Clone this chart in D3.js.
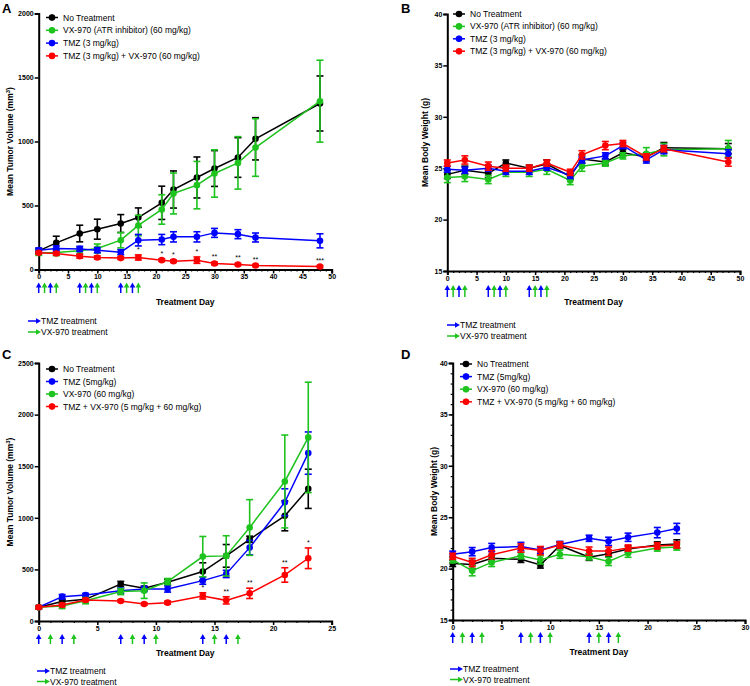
<!DOCTYPE html>
<html><head><meta charset="utf-8">
<script src="https://cdn.jsdelivr.net/npm/d3@7"></script>
<style>body{margin:0;background:#fff}svg{display:block;font-family:Arial,"Liberation Sans",sans-serif}</style>
</head><body>
<svg id="c" width="750" height="686"></svg>
<script>
// ---------- DATA ----------
const seriesColors = {none:"#000000", vx:"#1ec31e", tmz:"#0000ff", combo:"#ff0000"};

// Panel A: tumor volume, TMZ 3 mg/kg
const daysA = [0,3,7,10,14,17,21,23,27,30,34,37,48];
const volA_none  = [146,208,281,315,359,406,521,625,719,789,875,1021,1297];
const volA_noneE = [20,52,65,78,70,75,130,145,160,140,155,165,215];
const volA_vx    = [130,133,146,164,229,344,469,594,659,750,833,953,1315];
const volA_vxE   = [20,25,25,35,60,80,115,160,185,185,205,225,320];
const volA_tmz   = [151,164,161,151,135,229,234,255,255,286,276,250,224];
const volA_tmzE  = [15,20,20,20,20,45,40,40,40,35,35,35,55];
const volA_combo = [130,125,104,94,89,94,73,65,73,47,39,31,23];
const volA_comboE= [10,12,15,12,10,20,10,10,25,10,8,8,8];
const starsA     = ["","","","","","*","*","*","*","**","**","**","***"];
const legendA = ["No Treatment","VX-970 (ATR inhibitor) (60 mg/kg)","TMZ (3 mg/kg)","TMZ (3 mg/kg) + VX-970 (60 mg/kg)"];

// Panel B: body weight, TMZ 3 mg/kg
const wtB_none  = [24.4,24.8,24.5,25.5,25.0,25.4,24.2,25.9,25.6,26.5,26.1,27.0,26.9];
const wtB_noneE = [0.4,0.4,0.4,0.3,0.3,0.4,0.3,0.4,0.3,0.3,0.4,0.5,0.5];
const wtB_vx    = [24.1,24.2,23.9,24.6,24.6,24.9,23.8,25.2,25.5,26.2,26.4,26.8,26.9];
const wtB_vxE   = [0.5,0.5,0.4,0.4,0.4,0.5,0.4,0.5,0.3,0.3,0.6,0.6,0.8];
const wtB_tmz   = [24.9,24.8,25.0,24.7,24.7,25.1,24.3,25.8,26.2,27.2,25.8,26.8,26.4];
const wtB_tmzE  = [0.3,0.3,0.3,0.3,0.3,0.3,0.3,0.3,0.3,0.3,0.3,0.4,0.4];
const wtB_combo = [25.5,25.8,25.2,25.0,25.0,25.5,24.6,26.3,27.2,27.4,26.1,26.9,25.6];
const wtB_comboE= [0.3,0.4,0.4,0.3,0.3,0.3,0.3,0.4,0.4,0.3,0.3,0.3,0.4];

// Panel C: tumor volume, TMZ 5 mg/kg
const daysC = [0,2,4,7,9,11,14,16,18,21,23];
const volC_none  = [133,188,210,359,317,375,479,631,792,1019,1281];
const volC_noneE = [15,20,20,25,20,30,85,110,30,145,190];
const volC_tmz   = [133,236,252,294,310,310,391,456,711,1151,1627];
const volC_tmzE  = [15,20,15,25,25,30,35,35,70,130,205];
const volC_vx    = [133,146,197,285,294,382,624,631,906,1352,1779];
const volC_vxE   = [15,25,30,30,75,30,195,195,270,450,535];
const volC_combo = [133,155,204,194,165,178,243,200,268,446,608];
const volC_comboE= [15,15,15,12,12,15,30,35,50,70,100];
const starsC     = ["","","","","","","*","**","**","**","*"];
const legendC = ["No Treatment","TMZ (5mg/kg)","VX-970 (60 mg/kg)","TMZ + VX-970 (5 mg/kg + 60 mg/kg)"];

// Panel D: body weight, TMZ 5 mg/kg
const wtD_none  = [20.5,20.4,21.0,20.9,20.35,22.25,21.1,21.45,21.9,22.3,22.4];
const wtD_noneE = [0.3,0.4,0.3,0.3,0.3,0.3,0.3,0.3,0.3,0.3,0.4];
const wtD_tmz   = [21.4,21.65,22.05,22.15,21.8,22.35,22.95,22.65,23.05,23.5,23.9];
const wtD_tmzE  = [0.3,0.4,0.4,0.4,0.3,0.3,0.3,0.4,0.4,0.5,0.5];
const wtD_vx    = [20.85,19.8,20.6,21.25,20.85,21.4,21.15,20.7,21.5,22.0,22.1];
const wtD_vxE   = [0.3,0.5,0.4,0.3,0.4,0.4,0.3,0.4,0.4,0.3,0.3];
const wtD_combo = [21.2,20.6,21.35,22.0,21.75,22.3,21.7,21.7,22.0,22.2,22.3];
const wtD_comboE= [0.3,0.4,0.4,0.4,0.4,0.3,0.4,0.4,0.3,0.3,0.3];

// Treatment schedule (arrows)
const tmzDays = [0,2,7,9,14,16];
const vxDays  = [1,3,8,10,15,17];

const ticksVolA = [0,500,1000,1500,2000];
const ticksVolC = [0,500,1000,1500,2000,2500];
const ticksWt   = [15,20,25,30,35,40];

// ---------- DRAW ----------
const svg = d3.select("#c");
const FONT = 'Arial,"Liberation Sans",sans-serif';

function drawPanel(cfg){
  const g = svg.append("g");
  const x = d3.scaleLinear().domain(cfg.xDomain).range(cfg.xRange);
  const y = d3.scaleLinear().domain(cfg.yDomain).range(cfg.yRange);
  const y0 = cfg.yRange[0];

  const xAx = g.append("g").attr("transform",`translate(0,${y0})`)
    .call(d3.axisBottom(x).tickValues(d3.range(cfg.xDomain[0],cfg.xDomain[1]+1,5)).tickSize(4).tickPadding(1).tickFormat(d3.format("d")));
  g.append("g").attr("transform",`translate(0,${y0})`)
    .call(d3.axisBottom(x).tickValues(d3.range(cfg.xDomain[0],cfg.xDomain[1]+1,1)).tickSize(2).tickFormat(""))
    .call(a=>a.select(".domain").remove())
    .selectAll("line").attr("stroke-width",1.2);
  const yAx = g.append("g").attr("transform",`translate(${cfg.xRange[0]},0)`)
    .call(d3.axisLeft(y).tickValues(cfg.yTicks).tickSize(4).tickPadding(1).tickFormat(d3.format("d")));
  if(cfg.yMinor){
    g.append("g").attr("transform",`translate(${cfg.xRange[0]},0)`)
      .call(d3.axisLeft(y).tickValues(d3.range(cfg.yDomain[0],cfg.yDomain[1]+0.01,1)).tickSize(2).tickFormat(""))
      .call(a=>a.select(".domain").remove())
      .selectAll("line").attr("stroke-width",1.2);
  }
  [xAx,yAx].forEach(a=>{
    a.select(".domain").attr("stroke-width",2);
    a.selectAll(".tick line").attr("stroke-width",1.5);
    a.selectAll("text").attr("font-size",7).attr("font-weight","bold").attr("font-family",FONT).attr("fill","#000");
  });

  cfg.series.forEach((s)=>{
    const pts = cfg.days.map((d,i)=>({d,v:s.v[i],e:s.e[i]}));
    const col = s.color;
    g.append("path").datum(pts)
      .attr("fill","none").attr("stroke",col).attr("stroke-width",1.5)
      .attr("d",d3.line().x(p=>x(p.d)).y(p=>y(p.v)));
    const eb = g.append("g");
    pts.forEach(p=>{
      const cx = x(p.d), top=y(p.v+p.e), bot=y(p.v-p.e);
      eb.append("line").attr("x1",cx).attr("x2",cx).attr("y1",top).attr("y2",bot).attr("stroke",col).attr("stroke-width",1.6);
      [top,bot].forEach(yy=>eb.append("line").attr("x1",cx-3.5).attr("x2",cx+3.5).attr("y1",yy).attr("y2",yy).attr("stroke",col).attr("stroke-width",1.6));
      eb.append("circle").attr("cx",cx).attr("cy",y(p.v)).attr("r",3.3).attr("fill",col);
    });
    if(s.stars){
      pts.forEach((p,i)=>{
        if(!s.stars[i]) return;
        g.append("text").attr("x",x(p.d)).attr("y",y(p.v+p.e)-3).attr("text-anchor","middle")
          .attr("font-size",7).attr("font-family",FONT).attr("fill","#000").text(s.stars[i]);
      });
    }
  });

  cfg.legendOrder.forEach((k,i)=>{
    const ly = cfg.legendY + i*cfg.legendDy, lx = cfg.legendX;
    const col = seriesColors[k];
    g.append("line").attr("x1",lx-6).attr("x2",lx+6).attr("y1",ly).attr("y2",ly).attr("stroke",col).attr("stroke-width",1.5);
    g.append("line").attr("x1",lx).attr("x2",lx).attr("y1",ly-3).attr("y2",ly+3).attr("stroke",col).attr("stroke-width",1.6);
    g.append("circle").attr("cx",lx).attr("cy",ly).attr("r",3.3).attr("fill",col);
    g.append("text").attr("x",lx+11).attr("y",ly+3).attr("font-size",8.5).attr("font-family",FONT).attr("fill","#000").text(cfg.legendLabels[i]);
  });

  const arrow = (cx,yTop,yBot,col)=>{
    g.append("line").attr("x1",cx).attr("x2",cx).attr("y1",yTop+4).attr("y2",yBot).attr("stroke",col).attr("stroke-width",1.5);
    g.append("path").attr("d",`M${cx-2.8},${yTop+5}L${cx},${yTop}L${cx+2.8},${yTop+5}Z`).attr("fill",col);
  };
  tmzDays.forEach(d=>arrow(x(d),cfg.arrowTop,cfg.arrowBot,seriesColors.tmz));
  vxDays.forEach(d=>arrow(x(d),cfg.arrowTop,cfg.arrowBot,seriesColors.vx));

  g.append("text").attr("x",(cfg.xRange[0]+cfg.xRange[1])/2).attr("y",cfg.xTitleY).attr("text-anchor","middle")
    .attr("font-size",8.5).attr("font-weight","bold").attr("font-family",FONT).text("Treatment Day");
  const yt = g.append("text").attr("transform",`translate(${cfg.yTitleX},${(cfg.yRange[0]+cfg.yRange[1])/2}) rotate(-90)`)
    .attr("text-anchor","middle").attr("font-size",8.5).attr("font-weight","bold").attr("font-family",FONT);
  if(cfg.yTitleSup){
    yt.append("tspan").text(cfg.yTitle);
    yt.append("tspan").attr("font-size",6).attr("dy",-3).text("3");
    yt.append("tspan").attr("dy",3).text(")");
  } else yt.text(cfg.yTitle);

  const tl = [["TMZ treatment",seriesColors.tmz],["VX-970 treatment",seriesColors.vx]];
  tl.forEach((t,i)=>{
    const ly = cfg.tlY + i*cfg.tlDy, lx = cfg.tlX;
    g.append("line").attr("x1",lx).attr("x2",lx+9).attr("y1",ly).attr("y2",ly).attr("stroke",t[1]).attr("stroke-width",1.5);
    g.append("path").attr("d",`M${lx+8},${ly-2.8}L${lx+13},${ly}L${lx+8},${ly+2.8}Z`).attr("fill",t[1]);
    g.append("text").attr("x",lx+13).attr("y",ly+3).attr("font-size",8.5).attr("font-family",FONT).text(t[0]);
  });

  g.append("text").attr("x",cfg.letterX).attr("y",cfg.letterY).attr("font-size",13).attr("font-weight","bold").attr("font-family",FONT).text(cfg.letter);
}

drawPanel({letter:"A",letterX:2,letterY:13,
  days:daysA,xDomain:[0,50],xRange:[38.7,331.7],yDomain:[0,2000],yRange:[269.5,13.5],yTicks:ticksVolA,
  series:[{v:volA_none,e:volA_noneE,color:seriesColors.none},{v:volA_vx,e:volA_vxE,color:seriesColors.vx},
          {v:volA_tmz,e:volA_tmzE,color:seriesColors.tmz},{v:volA_combo,e:volA_comboE,color:seriesColors.combo,stars:starsA}],
  legendOrder:["none","vx","tmz","combo"],legendLabels:legendA,legendX:52,legendY:17.5,legendDy:12.8,
  arrowTop:282.5,arrowBot:293,xTitleY:305,yTitleX:13,yTitle:"Mean Tumor Volume (mm",yTitleSup:true,tlX:28,tlY:321,tlDy:11});

drawPanel({letter:"B",letterX:401,letterY:13,
  days:daysA,xDomain:[0,50],xRange:[447.3,740],yDomain:[15,40],yRange:[271,14],yTicks:ticksWt,
  series:[{v:wtB_none,e:wtB_noneE,color:seriesColors.none},{v:wtB_vx,e:wtB_vxE,color:seriesColors.vx},
          {v:wtB_tmz,e:wtB_tmzE,color:seriesColors.tmz},{v:wtB_combo,e:wtB_comboE,color:seriesColors.combo}],
  legendOrder:["none","vx","tmz","combo"],legendLabels:legendA,legendX:459,legendY:14,legendDy:12.4,
  arrowTop:285,arrowBot:297,xTitleY:305,yTitleX:428,yTitle:"Mean Body Weight (g)",tlX:447,tlY:325,tlDy:11});

drawPanel({letter:"C",letterX:2,letterY:359,
  days:daysC,xDomain:[0,25],xRange:[38.7,331.7],yDomain:[0,2500],yRange:[621,363],yTicks:ticksVolC,
  series:[{v:volC_none,e:volC_noneE,color:seriesColors.none},{v:volC_tmz,e:volC_tmzE,color:seriesColors.tmz},
          {v:volC_vx,e:volC_vxE,color:seriesColors.vx},{v:volC_combo,e:volC_comboE,color:seriesColors.combo,stars:starsC}],
  legendOrder:["none","tmz","vx","combo"],legendLabels:legendC,legendX:52,legendY:369,legendDy:12.5,
  arrowTop:634,arrowBot:644,xTitleY:656,yTitleX:13,yTitle:"Mean Tumor Volume (mm",yTitleSup:true,tlX:37,tlY:671,tlDy:10.5});

drawPanel({letter:"D",letterX:401,letterY:359,
  days:daysC,xDomain:[0,30],xRange:[452.7,745],yDomain:[15,40],yRange:[620,363],yTicks:ticksWt,yMinor:true,
  series:[{v:wtD_none,e:wtD_noneE,color:seriesColors.none},{v:wtD_tmz,e:wtD_tmzE,color:seriesColors.tmz},
          {v:wtD_vx,e:wtD_vxE,color:seriesColors.vx},{v:wtD_combo,e:wtD_comboE,color:seriesColors.combo}],
  legendOrder:["none","tmz","vx","combo"],legendLabels:legendC,legendX:466,legendY:364,legendDy:12.6,
  arrowTop:632,arrowBot:643,xTitleY:655,yTitleX:437,yTitle:"Mean Body Weight (g)",tlX:450,tlY:669,tlDy:10.5});
</script>
</body></html>
